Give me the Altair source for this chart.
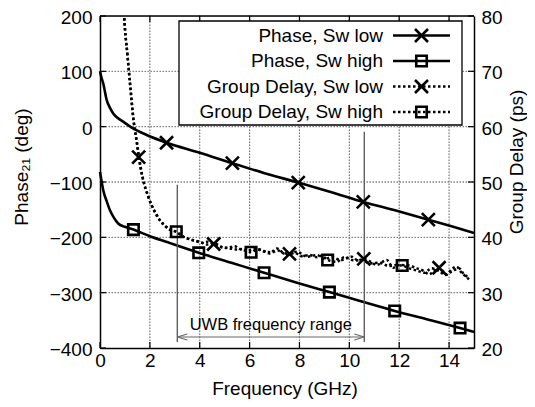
import altair as alt
import pandas as pd

FONT = "Liberation Sans"

# ---------------- data ----------------
phase_low_f = [0, 0.05, 0.13, 0.27, 0.4, 0.53, 0.7, 0.93, 1.15, 1.4, 1.87, 2.67, 4.0, 5.31, 6.6, 7.95, 9.25, 10.56, 11.9, 13.17, 14.1, 15]
phase_low = [100, 90, 78, 48, 34, 24, 16, 9, 2, -5, -15, -29, -47, -66, -84, -101, -118, -136, -152, -168, -180, -192]

phase_high_f = [0, 0.05, 0.13, 0.27, 0.4, 0.55, 0.73, 1.0, 1.34, 2.0, 2.65, 3.96, 5.27, 6.58, 7.9, 9.2, 10.5, 11.82, 13.1, 14.44, 15]
phase_high = [-82, -95, -115, -135, -151, -164, -175, -181, -186, -198, -208, -228, -246, -264, -282, -299, -316, -333, -348, -364, -371]

gd_low_f = [0.85, 0.97, 1.1, 1.2, 1.35, 1.47, 1.55, 1.7, 1.94, 2.2, 2.4, 2.6, 2.8, 3.06, 3.3, 3.5, 3.8, 4.1, 4.3, 4.56,
            4.8, 5.1, 5.4, 5.6, 5.9, 6.2, 6.5, 6.8, 7.1, 7.35, 7.6, 7.9, 8.3, 8.7, 9.0, 9.3, 9.65, 10.1, 10.35, 10.58,
            10.85, 11.1, 11.5, 11.76, 12.0, 12.4, 12.7, 13.0, 13.2, 13.4, 13.6, 13.9, 14.1, 14.3, 14.5, 14.65, 14.8]
gd_low = [95, 80, 73, 68, 61, 57.5, 54.5, 51, 47.3, 44.6, 43.1, 42.1, 41.4, 41.0, 40.2, 39.8, 39.4, 39.0, 39.2, 38.8,
          38.3, 38.1, 38.4, 37.9, 37.6, 37.9, 37.7, 37.1, 38.0, 37.2, 37.0, 37.4, 36.5, 36.8, 36.1, 36.4, 35.9, 36.5, 35.8, 36.1,
          35.6, 35.0, 35.9, 34.5, 35.0, 34.9, 34.4, 33.9, 33.3, 34.0, 34.5, 33.3, 34.2, 34.7, 33.6, 33.0, 32.4]

gd_high_f = [0.85, 0.97, 1.1, 1.2, 1.35, 1.5, 1.7, 1.94, 2.2, 2.4, 2.6, 2.8, 3.06, 3.4, 3.7, 4.0, 4.3, 4.6, 4.9, 5.2,
             5.5, 5.8, 6.06, 6.3, 6.6, 6.9, 7.15, 7.5, 7.8, 8.1, 8.4, 8.7, 8.9, 9.13, 9.5, 9.8, 10.2, 10.5, 10.8, 11.2,
             11.6, 11.9, 12.12, 12.4, 12.7, 13.0, 13.3, 13.6, 13.85, 14.1, 14.4, 14.6, 14.8]
gd_high = [95, 80, 73, 68, 61, 56.5, 51, 47.3, 44.6, 43.1, 42.1, 41.4, 41.0, 40.0, 39.5, 39.2, 38.7, 38.9, 38.2, 38.0,
           37.8, 37.9, 37.3, 37.8, 37.4, 37.3, 37.6, 36.8, 37.2, 36.6, 36.8, 36.4, 36.7, 35.9, 35.6, 36.4, 35.8, 35.9, 35.3, 35.4,
           34.8, 35.0, 34.9, 34.4, 34.0, 33.6, 34.4, 33.9, 33.2, 33.8, 34.4, 33.3, 32.8]

phase_low_mk_f = [2.67, 5.31, 7.95, 10.56, 13.17]
phase_low_mk = [-29, -66, -101, -136, -168]
phase_high_mk_f = [1.34, 3.96, 6.58, 9.2, 11.82, 14.44]
phase_high_mk = [-186, -228, -264, -299, -333, -364]
gd_low_mk_f = [1.55, 4.56, 7.6, 10.58, 13.6]
gd_low_mk = [54.5, 38.8, 37.0, 36.1, 34.5]
gd_high_mk_f = [3.06, 6.06, 9.13, 12.12]
gd_high_mk = [41.0, 37.3, 35.9, 34.9]

x_ticks = [0, 2, 4, 6, 8, 10, 12, 14]
x_grid = [2, 4, 6, 8, 10, 12, 14]
y_ticks = [-400, -300, -200, -100, 0, 100, 200]
y_grid = [-300, -200, -100, 0, 100]
y2_ticks = [20, 30, 40, 50, 60, 70, 80]

uwb_f = [3.1, 10.6]
uwb_top = [-105, -9]
uwb_bottom = -389
uwb_arrow_y = -380
uwb_label = "UWB frequency range"
uwb_label_f = 6.85
uwb_label_y = -368

legend_labels = ["Phase, Sw low", "Phase, Sw high", "Group Delay, Sw low", "Group Delay, Sw high"]
legend_dash = [False, False, True, True]
legend_shape = ["x", "sq", "x", "sq"]

x_title = "Frequency (GHz)"
y_title = "Phase\u2082\u2081 (deg)"
y2_title = "Group Delay (ps)"

# ---------------- layout ----------------
W, H = 374, 332
XS = alt.Scale(domain=[0, 15], nice=False, zero=False)
YP = alt.Scale(domain=[-400, 200], nice=False, zero=False)
YG = alt.Scale(domain=[20, 80], nice=False, zero=False)
XPATH = "M-1,-1L1,1M-1,1L1,-1"
DOT = [2.5, 2.5]
GRID = "#7a7a7a"
GRID_DASH = [0.5, 2.5]


def df(f, v):
    return pd.DataFrame({"f": f, "v": v})


x_axis = alt.Axis(values=x_ticks, title=None, grid=False, ticks=False, domain=True, domainColor="black",
                  domainWidth=1.5, labelFont=FONT, labelFontSize=19,
                  labelColor="black", labelPadding=3, labelFlush=False, format="d")
yp_axis = alt.Axis(values=y_ticks, title=None, grid=False, ticks=False, domain=True, domainColor="black",
                   domainWidth=1.5, labelFont=FONT, labelFontSize=19, labelOffset=1.5,
                   labelColor="black", labelPadding=8, labelFlush=False, orient="left", format="d")
yg_axis = alt.Axis(values=y2_ticks, title=None, grid=False, ticks=False, domain=True, domainColor="black",
                   domainWidth=1.5, orient="right", labelOffset=1.5,
                   labelFont=FONT, labelFontSize=19, labelColor="black", labelPadding=7,
                   labelFlush=False, format="d")

X = alt.X("f:Q", scale=XS, axis=x_axis)
YPv = alt.Y("v:Q", scale=YP, axis=yp_axis)
YGv = alt.Y("v:Q", scale=YG, axis=yg_axis)

# grid (dotted, round dots)
grid_x = alt.Chart(pd.DataFrame({"f": x_grid})).mark_rule(
    color=GRID, strokeWidth=1.3, strokeDash=GRID_DASH, strokeCap="round").encode(
    x=X, y=alt.value(0), y2=alt.value(H))
grid_y = alt.Chart(pd.DataFrame({"v": y_grid})).mark_rule(
    color=GRID, strokeWidth=1.3, strokeDash=GRID_DASH, strokeCap="round").encode(
    y=YPv, x=alt.value(0), x2=alt.value(W))

# phase lines
ph_low_line = alt.Chart(df(phase_low_f, phase_low)).mark_line(
    color="black", strokeWidth=2.6, interpolate="monotone").encode(x=X, y=YPv)
ph_high_line = alt.Chart(df(phase_high_f, phase_high)).mark_line(
    color="black", strokeWidth=2.6, interpolate="monotone").encode(x=X, y=YPv)
ph_low_pts = alt.Chart(df(phase_low_mk_f, phase_low_mk)).mark_point(
    shape=XPATH, size=169, filled=False, color="black", strokeWidth=2.6, opacity=1).encode(x=X, y=YPv)
ph_high_pts = alt.Chart(df(phase_high_mk_f, phase_high_mk)).mark_point(
    shape="square", size=110, filled=False, color="black", strokeWidth=2.6, opacity=1).encode(x=X, y=YPv)

# ticks (inward)
xt = pd.DataFrame({"f": x_ticks})
yt = pd.DataFrame({"v": y_ticks})
tick_b = alt.Chart(xt).mark_rule(color="black", strokeWidth=1.2).encode(
    x=X, y=alt.value(H), y2=alt.value(H - 6))
tick_t = alt.Chart(xt).mark_rule(color="black", strokeWidth=1.2).encode(
    x=X, y=alt.value(0), y2=alt.value(6))
tick_l = alt.Chart(yt).mark_rule(color="black", strokeWidth=1.2).encode(
    y=YPv, x=alt.value(0), x2=alt.value(6))
tick_r = alt.Chart(yt).mark_rule(color="black", strokeWidth=1.2).encode(
    y=YPv, x=alt.value(W - 6), x2=alt.value(W))
top_border = alt.Chart(pd.DataFrame({"a": [0]})).mark_rule(color="black", strokeWidth=1.5).encode(
    x=alt.value(0), x2=alt.value(W), y=alt.value(0))

# UWB annotation
uwb_df = pd.DataFrame({"f": uwb_f, "v": uwb_top, "bot": [uwb_bottom] * 2})
uwb_lines = alt.Chart(uwb_df).mark_rule(color="#555555", strokeWidth=1.3).encode(
    x=X, y=YPv, y2="bot:Q")
arr_df = pd.DataFrame({"f": [uwb_f[0]], "f2": [uwb_f[1]], "v": [uwb_arrow_y]})
uwb_arrow = alt.Chart(arr_df).mark_rule(color="#666666", strokeWidth=1.1).encode(
    x=X, x2="f2:Q", y=YPv)
head_l = alt.Chart(df([uwb_f[0]], [uwb_arrow_y])).mark_point(
    shape="M0,0L2,-0.6M0,0L2,0.6", size=100, filled=False, color="#666666", strokeWidth=1.1, opacity=1).encode(
    x=X, y=YPv)
head_r = alt.Chart(df([uwb_f[1]], [uwb_arrow_y])).mark_point(
    shape="M0,0L-2,-0.6M0,0L-2,0.6", size=100, filled=False, color="#666666", strokeWidth=1.1, opacity=1).encode(
    x=X, y=YPv)
uwb_text = alt.Chart(pd.DataFrame({"f": [uwb_label_f], "v": [uwb_label_y], "t": [uwb_label]})).mark_text(
    font=FONT, fontSize=16.5, color="black", align="center", baseline="alphabetic").encode(
    x=X, y=YPv, text="t:N")


# axis titles
def label(txt, x, y, angle=0, baseline="middle"):
    return alt.Chart(pd.DataFrame({"t": [txt]})).mark_text(
        font=FONT, fontSize=19, color="black", align="center", baseline=baseline, angle=angle).encode(
        x=alt.value(x), y=alt.value(y), text="t:N")


t_x = label(x_title, 185, 379, baseline="alphabetic")
t_y = label(y_title, -78, 151, angle=270)
t_y2 = label(y2_title, 417, 146, angle=270)

# legend
legend_layers = [alt.Chart(pd.DataFrame({"a": [0]})).mark_rect(
    fill="white", stroke="black", strokeWidth=1.3).encode(
    x=alt.value(79), x2=alt.value(362), y=alt.value(5), y2=alt.value(109))]
row_y = [19.5, 45, 70.5, 96]
for lab, dash, shp, ry in zip(legend_labels, legend_dash, legend_shape, row_y):
    legend_layers.append(alt.Chart(pd.DataFrame({"t": [lab]})).mark_text(
        font=FONT, fontSize=19, color="black", align="right", baseline="middle").encode(
        x=alt.value(283), y=alt.value(ry), text="t:N"))
    rule_kw = dict(color="black", strokeWidth=2.6)
    if dash:
        rule_kw["strokeDash"] = DOT
    legend_layers.append(alt.Chart(pd.DataFrame({"a": [0]})).mark_rule(**rule_kw).encode(
        x=alt.value(293), x2=alt.value(350), y=alt.value(ry)))
    if shp == "x":
        mk = alt.Chart(pd.DataFrame({"a": [0]})).mark_point(
            shape=XPATH, size=169, filled=False, color="black", strokeWidth=2.6, opacity=1)
    else:
        mk = alt.Chart(pd.DataFrame({"a": [0]})).mark_point(
            shape="square", size=110, filled=False, color="black", strokeWidth=2.6, opacity=1)
    legend_layers.append(mk.encode(x=alt.value(321.5), y=alt.value(ry)))

phase_layer = alt.layer(grid_x, grid_y, ph_low_line, ph_high_line, tick_b, tick_t, tick_l, tick_r, top_border,
                        uwb_lines, uwb_arrow, head_l, head_r, uwb_text,
                        ph_low_pts, ph_high_pts, t_x, t_y, t_y2)

# group delay
gd_low_line = alt.Chart(df(gd_low_f, gd_low)).mark_line(
    color="black", strokeWidth=2.5, strokeDash=DOT, clip=True, interpolate="monotone").encode(x=X, y=YGv)
gd_high_line = alt.Chart(df(gd_high_f, gd_high)).mark_line(
    color="black", strokeWidth=2.5, strokeDash=DOT, clip=True, interpolate="monotone").encode(x=X, y=YGv)
gd_low_pts = alt.Chart(df(gd_low_mk_f, gd_low_mk)).mark_point(
    shape=XPATH, size=169, filled=False, color="black", strokeWidth=2.6, opacity=1).encode(x=X, y=YGv)
gd_high_pts = alt.Chart(df(gd_high_mk_f, gd_high_mk)).mark_point(
    shape="square", size=110, filled=False, color="black", strokeWidth=2.6, opacity=1).encode(x=X, y=YGv)

gd_layer = alt.layer(gd_low_line, gd_high_line, gd_low_pts, gd_high_pts, *legend_layers)

chart = alt.layer(phase_layer, gd_layer).resolve_scale(y="independent").properties(
    width=W, height=H,
    autosize=alt.AutoSizeParams(type="none"),
    padding={"left": 92, "top": 8, "right": 53, "bottom": 51},
).configure_view(stroke="black", strokeWidth=1.5).configure(background="white")

chart.save("out.html", embed_options={"renderer": "svg", "actions": False})
